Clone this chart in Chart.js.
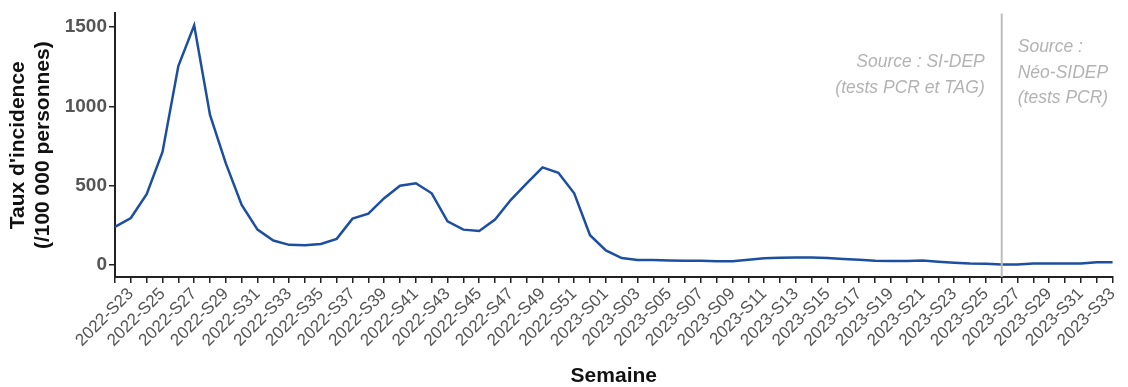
<!DOCTYPE html>
<html>
<head>
<meta charset="utf-8">
<script src="https://cdn.jsdelivr.net/npm/chart.js@4/dist/chart.umd.min.js"></script>
<style>
  html, body { margin: 0; padding: 0; background: #fff; }
  #wrap { width: 1128px; height: 387px; position: relative; }
</style>
</head>
<body>
<div id="wrap"><canvas id="incChart"></canvas></div>
<script>
// weeks from 2022-S22 to 2023-S33
const weeks = [];
for (let w = 22; w <= 52; w++) weeks.push('2022-S' + String(w).padStart(2, '0'));
for (let w = 1; w <= 33; w++) weeks.push('2023-S' + String(w).padStart(2, '0'));

// incidence rate per 100 000
const incidence = [
  240, 296, 446, 713, 1254, 1510, 946, 640, 379, 223,
  154, 127, 125, 133, 165, 292, 323, 421, 500, 515,
  452, 275, 223, 215, 286, 411, 515, 615, 581, 452,
  188, 92, 44, 31, 31, 29, 27, 27, 23, 23,
  33, 42, 46, 48, 48, 44, 38, 33, 27, 25,
  25, 29, 21, 15, 10, 8, 4, 4, 10, 10,
  10, 10, 17, 17
];

const yTicks = [0, 500, 1000, 1500];
const sourceBreak = '2023-S26';
const sourceLeft = ['Source : SI-DEP', '(tests PCR et TAG)'];
const sourceRight = ['Source :', 'Néo-SIDEP', '(tests PCR)'];

const FONT = "'Liberation Sans', Arial, sans-serif";

const sourcePlugin = {
  id: 'sourceBreak',
  afterDatasetsDraw(chart) {
    const {ctx, chartArea, scales} = chart;
    const x = scales.x.getPixelForValue(weeks.indexOf(sourceBreak));
    ctx.save();
    ctx.strokeStyle = '#bdbdbd';
    ctx.lineWidth = 2;
    ctx.beginPath();
    ctx.moveTo(x, chartArea.top);
    ctx.lineTo(x, chartArea.bottom);
    ctx.stroke();
    ctx.fillStyle = '#b3b3b3';
    ctx.font = 'italic 17.5px ' + FONT;
    ctx.textBaseline = 'middle';
    ctx.textAlign = 'right';
    sourceLeft.forEach((t, i) => ctx.fillText(t, x - 17, chartArea.top + 49 + i * 26));
    ctx.textAlign = 'left';
    sourceRight.forEach((t, i) => ctx.fillText(t, x + 16, chartArea.top + 34 + i * 25.5));
    ctx.restore();
  }
};

const ctx = document.getElementById('incChart').getContext('2d');
new Chart(ctx, {
  type: 'line',
  data: {
    labels: weeks,
    datasets: [{
      data: incidence,
      borderColor: '#1c4f9f',
      borderWidth: 2.5,
      pointRadius: 0,
      tension: 0,
      fill: false
    }]
  },
  options: {
    responsive: true,
    maintainAspectRatio: false,
    animation: false,
    layout: { padding: { top: 12, right: 14, bottom: 0, left: 0 } },
    plugins: {
      legend: { display: false },
      tooltip: { enabled: false }
    },
    scales: {
      x: {
        offset: false,
        grid: { drawOnChartArea: false, drawTicks: true, tickLength: 6, color: '#222', lineWidth: 1.5 },
        border: { display: true, color: '#222', width: 2 },
        ticks: {
          autoSkip: false,
          minRotation: 45,
          maxRotation: 45,
          padding: 1,
          color: '#555',
          font: { family: FONT, size: 17 },
          callback: (v, i) => (i % 2 === 1 ? weeks[i] : '')
        },
        title: {
          display: true,
          text: 'Semaine',
          color: '#111',
          font: { family: FONT, size: 21, weight: 'bold', lineHeight: 1 },
          padding: { top: 0, bottom: 0 }
        },
        afterFit: (scale) => { scale.height = 110; }
      },
      y: {
        min: -75.5,
        max: 1585.5,
        afterBuildTicks: (scale) => { scale.ticks = yTicks.map(v => ({ value: v })); },
        grid: { drawOnChartArea: false, drawTicks: true, tickLength: 6, color: '#222', lineWidth: 1.5 },
        border: { display: true, color: '#222', width: 2 },
        ticks: {
          padding: 2,
          color: '#555',
          font: { family: FONT, size: 19, weight: 'bold' },
          callback: (v) => String(v)
        },
        title: {
          display: true,
          text: ["Taux d'incidence", '(/100 000 personnes)'],
          color: '#111',
          font: { family: FONT, size: 21, weight: 'bold', lineHeight: 1.19 },
          padding: { top: 5.5, bottom: 0 }
        },
        afterFit: (scale) => { scale.width = 115; }
      }
    }
  },
  plugins: [sourcePlugin]
});
</script>
</body>
</html>
